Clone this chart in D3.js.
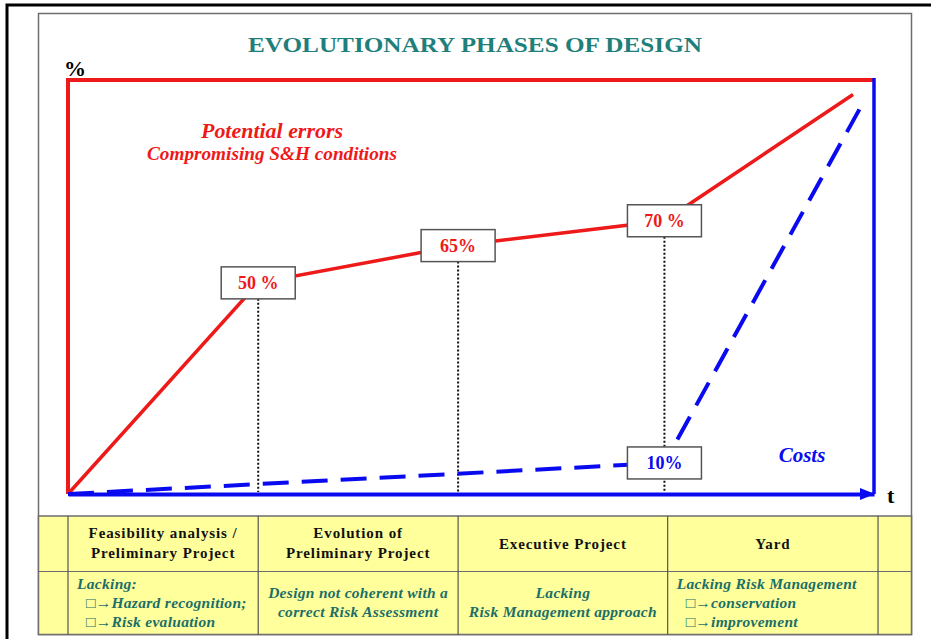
<!DOCTYPE html>
<html>
<head>
<meta charset="utf-8">
<script src="https://cdn.jsdelivr.net/npm/d3@7"></script>
<style>
  html, body { margin: 0; padding: 0; background: #fff; }
  svg { display: block; }
  text { font-family: "Liberation Serif", "Times New Roman", serif; }
</style>
</head>
<body>
<svg id="chart" width="931" height="639"></svg>
<script>
// ---- data ----
const title = "EVOLUTIONARY PHASES OF DESIGN";
const phaseNames = [["Feasibility analysis /", "Preliminary Project"], ["Evolution of", "Preliminary Project"], ["Executive Project"], ["Yard"]];
const phaseEnd = [23.6, 48.4, 74.4, 100.5];            // time (% of axis) where each phase ends
const phaseNotes = [
  { align: "left", lines: ["Lacking:", "  □→Hazard recognition;", "  □→Risk evaluation"] },
  { align: "middle", lines: ["Design not coherent with a", "correct Risk Assessment"] },
  { align: "middle", lines: ["Lacking", "Risk Management approach"] },
  { align: "left", lines: ["Lacking Risk Management", "  □→conservation", "  □→improvement"] }
];
const errorTime = [0, 23.6, 48.4, 74.0, 97.4];
const errorLevel = [0, 51, 60, 66, 96.5];
const errorLabels = ["50 %", "65%", "70 %"];
const costTime = [0, 74.0, 98.5];
const costLevel = [0, 7.5, 94];
const costLabels = ["10%"];

// ---- layout ----
const svg = d3.select("#chart");
const RED = "#ee1a1a", BLUE = "#0a0af0", TEAL = "#1f7f7a", TEAL2 = "#1b6f68";
const x = d3.scaleLinear().domain([0, 100]).range([68, 874]);
const y = d3.scaleLinear().domain([0, 100]).range([494, 80]);

// outer frames
svg.append("rect").attr("x", 7).attr("y", 5).attr("width", 940).attr("height", 650)
  .attr("fill", "none").attr("stroke", "#000").attr("stroke-width", 3);
svg.append("rect").attr("x", 38.5).attr("y", 13.5).attr("width", 873).attr("height", 621)
  .attr("fill", "#fff").attr("stroke", "#6e6e6e").attr("stroke-width", 1.5);

// title
svg.append("text").attr("x", 475).attr("y", 52).attr("text-anchor", "middle")
  .attr("font-size", 21).attr("font-weight", "bold").attr("fill", TEAL)
  .attr("textLength", 454).attr("lengthAdjust", "spacingAndGlyphs").text(title);

// frame of the chart area
svg.append("line").attr("x1", x(0)).attr("x2", x(100)).attr("y1", y(100)).attr("y2", y(100))
  .attr("stroke", RED).attr("stroke-width", 4);
svg.append("line").attr("x1", x(0)).attr("x2", x(0)).attr("y1", y(100) - 2).attr("y2", y(0))
  .attr("stroke", RED).attr("stroke-width", 4);
svg.append("line").attr("x1", x(100)).attr("x2", x(100)).attr("y1", y(100) - 2).attr("y2", y(0))
  .attr("stroke", BLUE).attr("stroke-width", 3.5);

// x axis (time) with arrow
const xAxis = d3.axisBottom(x).tickValues([]).tickSizeOuter(0);
const gx = svg.append("g").attr("transform", `translate(0,${y(0)})`).call(xAxis);
gx.select(".domain").attr("stroke", BLUE).attr("stroke-width", 4);
svg.append("path")
  .attr("d", `M${x(100) - 14},${y(0) - 6} L${x(100) + 1},${y(0)} L${x(100) - 14},${y(0) + 6} Z`)
  .attr("fill", BLUE);

svg.append("text").attr("x", 64).attr("y", 76).attr("font-size", 22).attr("font-weight", "bold").text("%");
svg.append("text").attr("x", 887).attr("y", 503).attr("font-size", 22).attr("font-weight", "bold").text("t");

// dotted drop lines at the phase points
const pts = errorTime.slice(1, 4).map((t, i) => ({ t, v: errorLevel[i + 1], label: errorLabels[i] }));
const costPt = { t: costTime[1], v: costLevel[1], label: costLabels[0] };
const BW = 74, BH = 32;
pts.forEach(p => {
  svg.append("line").attr("x1", x(p.t)).attr("x2", x(p.t))
    .attr("y1", y(p.v) + BH / 2).attr("y2", y(0) - 2)
    .attr("stroke", "#111").attr("stroke-width", 2).attr("stroke-dasharray", "2,2");
});

// lines
const line = d3.line().x(d => x(d[0])).y(d => y(d[1]));
svg.append("path").datum(errorTime.map((t, i) => [t, errorLevel[i]]))
  .attr("d", line).attr("fill", "none").attr("stroke", RED).attr("stroke-width", 3.5);
svg.append("path").datum(costTime.map((t, i) => [t, costLevel[i]]))
  .attr("d", line).attr("fill", "none").attr("stroke", BLUE).attr("stroke-width", 4)
  .attr("stroke-dasharray", "26,13");

// label boxes
function box(p, color) {
  const cx = x(p.t), cy = y(p.v);
  svg.append("rect").attr("x", cx - BW / 2).attr("y", cy - BH / 2).attr("width", BW).attr("height", BH)
    .attr("fill", "#fff").attr("stroke", "#555").attr("stroke-width", 1.5);
  svg.append("text").attr("x", cx).attr("y", cy + 6.5).attr("text-anchor", "middle")
    .attr("font-size", 18).attr("font-weight", "bold").attr("fill", color).text(p.label);
}
pts.forEach(p => box(p, RED));
box(costPt, BLUE);

// series labels
svg.append("text").attr("x", 272).attr("y", 138).attr("text-anchor", "middle")
  .attr("font-size", 21).attr("font-weight", "bold").attr("font-style", "italic").attr("fill", RED)
  .attr("textLength", 142).attr("lengthAdjust", "spacingAndGlyphs")
  .text("Potential errors");
svg.append("text").attr("x", 272).attr("y", 160).attr("text-anchor", "middle")
  .attr("font-size", 18).attr("font-weight", "bold").attr("font-style", "italic").attr("fill", RED)
  .attr("textLength", 250).attr("lengthAdjust", "spacingAndGlyphs")
  .text("Compromising S&H conditions");
svg.append("text").attr("x", 802).attr("y", 462).attr("text-anchor", "middle")
  .attr("font-size", 21).attr("font-weight", "bold").attr("font-style", "italic").attr("fill", BLUE)
  .text("Costs");

// table of phases
const tTop = 516, tMid = 571.5, tBot = 634.5, tLeft = 38.5, tRight = 911.5;
const YEL = "#ffff9c";
svg.append("rect").attr("x", tLeft).attr("y", tTop).attr("width", tRight - tLeft).attr("height", tBot - tTop)
  .attr("fill", YEL).attr("stroke", "#6e6e6e").attr("stroke-width", 1.5);
svg.append("line").attr("x1", tLeft).attr("x2", tRight).attr("y1", tMid).attr("y2", tMid)
  .attr("stroke", "#6e6e6e").attr("stroke-width", 1.2);
const colEdges = [0].concat(phaseEnd);
colEdges.forEach(t => {
  svg.append("line").attr("x1", x(t)).attr("x2", x(t)).attr("y1", tTop).attr("y2", tBot)
    .attr("stroke", "#555").attr("stroke-width", 1.2);
});
phaseNames.forEach((lines, i) => {
  const cx = (x(colEdges[i]) + x(colEdges[i + 1])) / 2;
  const y0 = lines.length === 2 ? 538 : 549;
  lines.forEach((s, j) => {
    svg.append("text").attr("x", cx).attr("y", y0 + j * 20).attr("text-anchor", "middle")
      .attr("font-size", 15).attr("font-weight", "bold").attr("fill", "#111")
      .attr("letter-spacing", 0.9).text(s);
  });
});
phaseNotes.forEach((n, i) => {
  const x0 = x(colEdges[i]), x1 = x(colEdges[i + 1]);
  const cx = (x0 + x1) / 2;
  const y0 = n.lines.length === 3 ? 589 : 598;
  n.lines.forEach((s, j) => {
    const indent = s.startsWith("  ");
    svg.append("text")
      .attr("x", n.align === "middle" ? cx : x0 + 9 + (indent ? 9 : 0))
      .attr("y", y0 + j * 19).attr("text-anchor", n.align === "middle" ? "middle" : "start")
      .attr("font-size", 15.5).attr("font-weight", "bold").attr("font-style", "italic")
      .attr("letter-spacing", 0.3)
      .attr("fill", TEAL2).text(s.trim());
  });
});
</script>
</body>
</html>
